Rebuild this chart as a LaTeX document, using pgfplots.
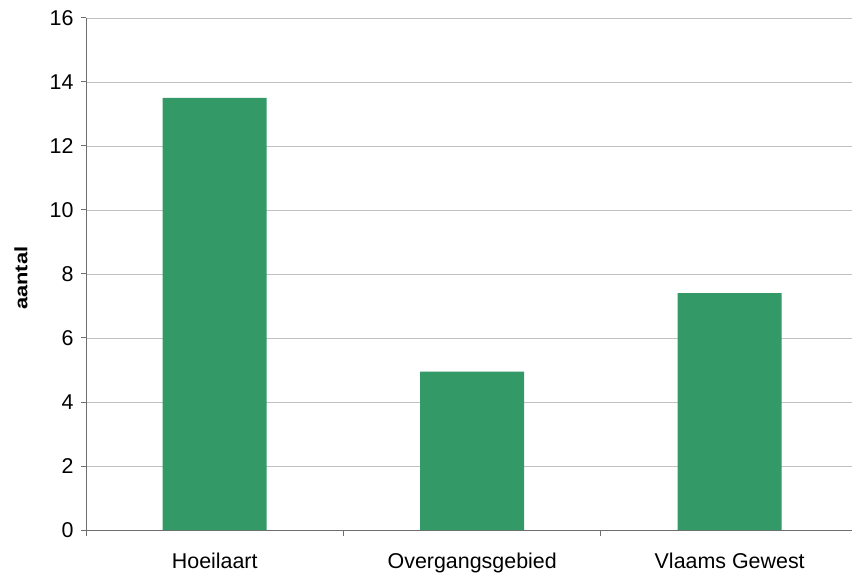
\documentclass[border=0pt]{standalone}
\usepackage{pgfplots}
\pgfplotsset{compat=1.18}
\usepackage{fontspec}
\setmainfont{Liberation Sans}
\definecolor{bargreen}{RGB}{51,153,102}
\definecolor{gridgray}{RGB}{192,192,192}
\definecolor{axgray}{RGB}{110,110,110}
\begin{document}
\begin{tikzpicture}
\path[use as bounding box] (-86bp,-43bp) rectangle (766bp,512bp+18bp);
\begin{axis}[
  at={(0,0)}, anchor=south west,
  scale only axis,
  width=766bp, height=512bp,
  xmin=-0.5, xmax=2.475,
  ymin=0, ymax=16,
  ytick={0,2,...,16},
  xtick={0,1,2},
  xticklabels={Hoeilaart,Overgangsgebied,Vlaams Gewest},
  minor xtick={-0.5,0.5,1.5},
  major x tick style={draw=none},
  minor tick length=6bp,
  major tick length=5bp,
  tick align=outside,
  xtick pos=bottom, ytick pos=left,
  axis x line*=bottom, axis y line*=left,
  axis line style={axgray, line width=1pt},
  every tick/.style={axgray, line width=1pt},
  ymajorgrids,
  grid style={gridgray, line width=0.9pt},
  ylabel={\scalebox{1.22}[1]{\textbf{aantal}}},
  ylabel style={font=\fontsize{18}{21}\selectfont, at={(-55bp,0.492)}, anchor=south},
  tick label style={font=\fontsize{21.5}{25}\selectfont},
  /pgf/number format/assume math mode=true,
  xticklabel style={yshift=-14bp},
  yticklabel style={xshift=-4bp},
  clip=false,
]
\addplot[ybar, bar width=104bp, fill=bargreen, draw=none] coordinates {(0,13.5) (1,4.95) (2,7.4)};
\end{axis}
\end{tikzpicture}
\end{document}
